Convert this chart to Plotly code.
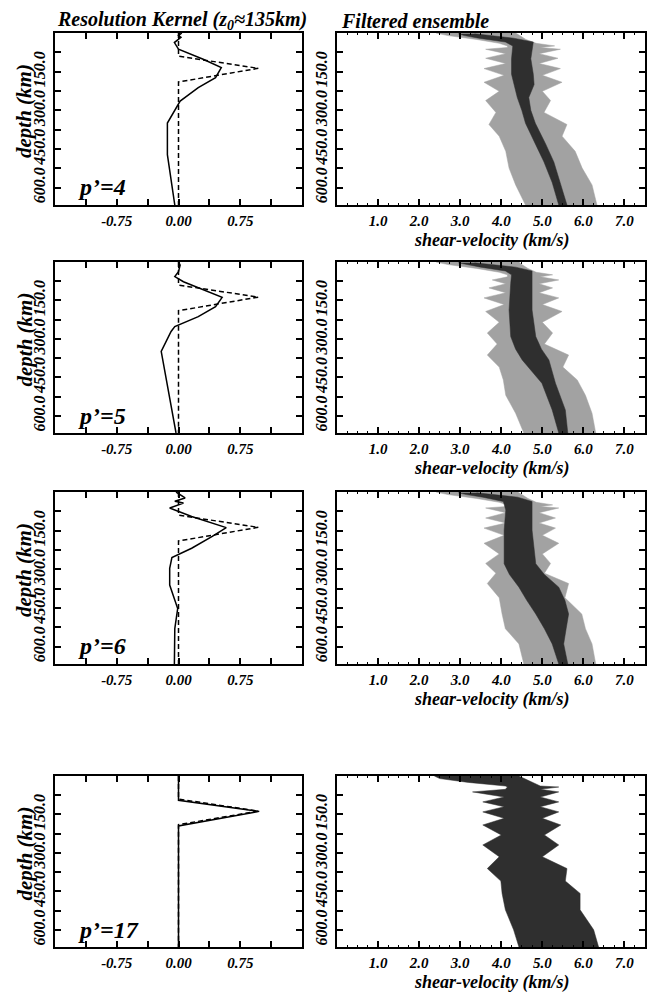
import plotly.graph_objects as go

W, H = 652, 994

# ---------------- data: resolution kernels (value vs depth in km) ----------------
TARGET_DEPTH = [0, 90, 137, 190, 667]
TARGET_VAL = [0.0, 0.0, 0.97, 0.0, 0.0]

K4_DEPTH = [0, 10, 17, 37, 63, 102, 134, 173, 212, 264, 349, 472, 667]
K4_VAL = [0.04, 0.0, 0.03, -0.05, 0.0, 0.30, 0.52, 0.45, 0.24, 0.02, -0.135, -0.135, -0.045]

K5_DEPTH = [0, 12, 38, 57, 77, 138, 174, 213, 252, 271, 349, 641, 667]
K5_VAL = [0.0, 0.02, 0.0, -0.045, 0.06, 0.53, 0.45, 0.24, -0.045, -0.09, -0.21, -0.045, -0.03]

K6_DEPTH = [0, 12, 23, 36, 43, 62, 95, 138, 172, 218, 254, 296, 361, 452, 530, 667]
K6_VAL = [-0.03, 0.03, 0.08, -0.045, 0.06, -0.107, 0.16, 0.58, 0.41, 0.16, -0.08, -0.107, -0.107, -0.01, -0.045, -0.05]

K17_DEPTH = [0, 95, 138, 195, 667]
K17_VAL = [0.0, 0.0, 0.98, 0.0, 0.0]

# ---------------- data: ensemble envelopes (shear velocity km/s vs depth) ----------------
E1_DEPTH = [0, 10, 25, 40, 50, 56, 63, 80, 98, 118, 138, 164, 191, 226, 262, 308, 355, 400, 459, 524, 589, 667]
E1_LEFT = [2.41, 2.70, 3.40, 3.95, 4.15, 4.15, 3.62, 4.11, 3.62, 4.11, 3.58, 4.07, 3.58, 3.95, 3.62, 3.87, 3.70, 3.95, 4.11, 4.19, 4.35, 4.59]
E1_RIGHT = [4.35, 4.45, 4.60, 4.85, 5.30, 4.95, 5.44, 4.92, 5.38, 4.92, 5.44, 5.00, 5.48, 5.00, 5.20, 5.04, 5.60, 5.48, 5.80, 5.97, 6.21, 6.33]
F1_DEPTH = [3, 10, 20, 35, 50, 100, 160, 200, 250, 300, 350, 430, 500, 580, 667]
F1_LEFT = [2.95, 3.10, 3.45, 4.10, 4.28, 4.25, 4.25, 4.31, 4.39, 4.50, 4.59, 4.83, 5.04, 5.24, 5.40]
F1_RIGHT = [3.35, 3.70, 4.30, 4.78, 4.78, 4.72, 4.78, 4.80, 4.67, 4.72, 4.83, 5.08, 5.28, 5.44, 5.60]

E2_DEPTH = [0, 10, 25, 40, 50, 58, 70, 85, 101, 120, 140, 166, 193, 235, 277, 320, 363, 410, 460, 520, 590, 667]
E2_LEFT = [2.41, 2.70, 3.40, 3.95, 4.15, 4.15, 3.78, 4.11, 3.70, 4.11, 3.58, 4.07, 3.62, 3.95, 3.66, 3.90, 3.66, 3.95, 4.05, 4.11, 4.35, 4.55]
E2_RIGHT = [4.43, 4.50, 4.65, 4.85, 5.25, 4.95, 5.40, 4.92, 5.25, 4.92, 5.40, 5.00, 5.48, 5.00, 5.25, 5.05, 5.64, 5.50, 5.85, 6.05, 6.21, 6.30]
F2_DEPTH = [3, 10, 20, 35, 50, 83, 187, 291, 340, 382, 473, 577, 667]
F2_LEFT = [2.95, 3.15, 3.50, 4.10, 4.25, 4.23, 4.19, 4.23, 4.35, 4.51, 4.99, 5.24, 5.40]
F2_RIGHT = [3.35, 3.75, 4.35, 4.75, 4.75, 4.75, 4.75, 4.84, 4.98, 5.16, 5.32, 5.56, 5.62]

E3_DEPTH = [0, 10, 25, 40, 50, 56, 62, 80, 101, 120, 140, 168, 199, 240, 277, 315, 355, 410, 473, 530, 589, 667]
E3_LEFT = [2.41, 2.70, 3.40, 3.95, 4.15, 4.15, 3.62, 4.11, 3.62, 4.11, 3.58, 4.07, 3.58, 3.95, 3.62, 3.87, 3.66, 3.95, 4.02, 4.10, 4.43, 4.55]
E3_RIGHT = [4.40, 4.50, 4.65, 4.85, 5.25, 4.95, 5.40, 4.92, 5.32, 4.92, 5.32, 5.00, 5.40, 5.00, 5.20, 5.05, 5.64, 5.55, 5.96, 6.05, 6.21, 6.30]
F3_DEPTH = [3, 10, 20, 37, 70, 148, 278, 320, 369, 420, 473, 530, 589, 667]
F3_LEFT = [2.95, 3.15, 3.55, 4.05, 4.11, 4.07, 4.07, 4.20, 4.43, 4.62, 4.84, 5.05, 5.24, 5.40]
F3_RIGHT = [3.40, 3.80, 4.40, 4.75, 4.75, 4.75, 4.84, 5.05, 5.40, 5.55, 5.64, 5.58, 5.52, 5.62]

E4_DEPTH = [0, 10, 25, 39, 43, 52, 62, 82, 101, 120, 140, 165, 191, 230, 269, 315, 361, 410, 458, 522, 600, 667]
E4_LEFT = [2.37, 2.50, 3.20, 4.10, 4.15, 4.10, 3.30, 4.07, 3.55, 4.07, 3.55, 4.07, 3.55, 4.00, 3.55, 3.95, 3.66, 3.99, 4.02, 4.10, 4.30, 4.43]
E4_RIGHT = [4.43, 4.55, 4.75, 4.95, 5.40, 4.95, 5.40, 4.95, 5.40, 4.95, 5.40, 5.00, 5.45, 5.05, 5.40, 5.00, 5.60, 5.56, 5.92, 5.92, 6.25, 6.37]

P_LABELS = ["p’=4", "p’=5", "p’=6", "p’=17"]
KERNELS = [(K4_VAL, K4_DEPTH), (K5_VAL, K5_DEPTH), (K6_VAL, K6_DEPTH), (K17_VAL, K17_DEPTH)]
ENSEMBLES = [(E1_DEPTH, E1_LEFT, E1_RIGHT), (E2_DEPTH, E2_LEFT, E2_RIGHT),
             (E3_DEPTH, E3_LEFT, E3_RIGHT), (E4_DEPTH, E4_LEFT, E4_RIGHT)]
FILTERED = [(F1_DEPTH, F1_LEFT, F1_RIGHT), (F2_DEPTH, F2_LEFT, F2_RIGHT),
            (F3_DEPTH, F3_LEFT, F3_RIGHT), None]

KX_TICKS = [-0.75, 0.0, 0.75]
KX_TEXT = ["-0.75", "0.00", "0.75"]
VX_TICKS = [1, 2, 3, 4, 5, 6, 7]
VX_TEXT = ["1.0", "2.0", "3.0", "4.0", "5.0", "6.0", "7.0"]
D_TICKS = [150, 300, 450, 600]
D_TEXT = ["150.0", "300.0", "450.0", "600.0"]

# ---------------- layout geometry (pixels) ----------------
ROW_TOP = [33, 262, 492, 776]
ROW_BOT = [205, 433, 664, 947]
LEFT_X = (55, 302)
RIGHT_X = (337, 645)

LIGHT = "#a2a2a2"
DARK = "#2f2f2f"
FONT = "Liberation Serif"


def px(x):
    return x / W


def py(y):
    return 1 - y / H


fig = go.Figure()

axis_common = dict(showline=True, linecolor="black", linewidth=1.5, mirror="allticks",
                   ticks="inside", ticklen=6, tickwidth=1.5, tickcolor="black",
                   showgrid=False, zeroline=False, fixedrange=True)
tick_font = dict(family=FONT, size=15, color="black", weight="bold", style="italic")
ytick_font = dict(family=FONT, size=16, color="black", weight="bold", style="italic")

layout = {}
annotations = []

for i in range(4):
    li, ri = 2 * i + 1, 2 * i + 2
    lx = "x" if li == 1 else f"x{li}"
    ly = "y" if li == 1 else f"y{li}"
    rx, ry = f"x{ri}", f"y{ri}"
    ydom = [py(ROW_BOT[i]), py(ROW_TOP[i])]

    # left kernel panel
    fig.add_trace(go.Scatter(x=TARGET_VAL, y=TARGET_DEPTH, mode="lines", xaxis=lx, yaxis=ly,
                             line=dict(color="black", width=1.5, dash="5px,3px"), showlegend=False))
    kv, kd = KERNELS[i]
    fig.add_trace(go.Scatter(x=kv, y=kd, mode="lines", xaxis=lx, yaxis=ly,
                             line=dict(color="black", width=1.5), showlegend=False))

    # right ensemble panel
    ed, el, er = ENSEMBLES[i]
    col = LIGHT if FILTERED[i] is not None else DARK
    fig.add_trace(go.Scatter(x=el + er[::-1], y=ed + ed[::-1], mode="lines", fill="toself",
                             fillcolor=col, line=dict(color=col, width=0.5),
                             xaxis=rx, yaxis=ry, showlegend=False))
    if FILTERED[i] is not None:
        fd, fl, fr = FILTERED[i]
        fig.add_trace(go.Scatter(x=fl + fr[::-1], y=fd + fd[::-1], mode="lines", fill="toself",
                                 fillcolor=DARK, line=dict(color=DARK, width=0.5),
                                 xaxis=rx, yaxis=ry, showlegend=False))

    lname = "xaxis" if li == 1 else f"xaxis{li}"
    lyname = "yaxis" if li == 1 else f"yaxis{li}"
    layout[lname] = dict(axis_common, domain=[px(LEFT_X[0]), px(LEFT_X[1])], anchor=ly,
                         range=[-1.5, 1.5], tickmode="array", tickvals=KX_TICKS, ticktext=KX_TEXT,
                         tickfont=tick_font, ticklabelstandoff=1,
                         minor=dict(ticks="inside", ticklen=6, tickwidth=1.5, tickcolor="black",
                                    tickmode="linear", tick0=0, dtick=0.375))
    layout[lyname] = dict(axis_common, domain=ydom, anchor=lx, range=[667, 0],
                          tickmode="array", tickvals=D_TICKS, ticktext=D_TEXT,
                          tickangle=-90, tickfont=ytick_font, ticklabelstandoff=2,
                          minor=dict(ticks="inside", ticklen=6, tickwidth=1.5, tickcolor="black",
                                     tickmode="linear", tick0=0, dtick=75))
    layout[f"xaxis{ri}"] = dict(axis_common, domain=[px(RIGHT_X[0]), px(RIGHT_X[1])], anchor=ry,
                                range=[0, 7.5], tickmode="array", tickvals=VX_TICKS, ticktext=VX_TEXT,
                                tickfont=tick_font, ticklabelstandoff=1,
                                minor=dict(ticks="inside", ticklen=2, tickwidth=1, tickcolor="black",
                                           tickmode="linear", tick0=0, dtick=0.25))
    layout[f"yaxis{ri}"] = dict(axis_common, domain=ydom, anchor=rx, range=[667, 0],
                                tickmode="array", tickvals=D_TICKS, ticktext=D_TEXT,
                                tickangle=-90, tickfont=ytick_font, ticklabelstandoff=2,
                                minor=dict(ticks="inside", ticklen=6, tickwidth=1.5, tickcolor="black",
                                           tickmode="linear", tick0=0, dtick=75))

    ann_font = dict(family=FONT, color="black", weight="bold", style="italic")
    annotations.append(dict(text="depth (km)", x=px(24), y=py((ROW_TOP[i] + ROW_BOT[i]) / 2 - 8),
                            xref="paper", yref="paper", showarrow=False, textangle=-90,
                            xanchor="center", yanchor="middle", font=dict(ann_font, size=21)))
    annotations.append(dict(text=P_LABELS[i], x=px(76), y=py(ROW_TOP[i] + 154),
                            xref="paper", yref="paper", showarrow=False,
                            xanchor="left", yanchor="middle", font=dict(ann_font, size=24)))
    annotations.append(dict(text="shear-velocity (km/s)", x=px(491), y=py(ROW_BOT[i] + 35),
                            xref="paper", yref="paper", showarrow=False,
                            xanchor="center", yanchor="middle", font=dict(ann_font, size=18)))

ttl_font = dict(family=FONT, color="black", weight="bold", style="italic", size=20)
annotations.append(dict(text="Resolution Kernel (z<sub>0</sub>≈135km)", x=px(55), y=py(21),
                        xref="paper", yref="paper", showarrow=False, xanchor="left", yanchor="middle",
                        font=ttl_font))
annotations.append(dict(text="Filtered ensemble", x=px(339), y=py(21),
                        xref="paper", yref="paper", showarrow=False, xanchor="left", yanchor="middle",
                        font=ttl_font))

fig.update_layout(width=W, height=H, margin=dict(l=0, r=0, t=0, b=0),
                  paper_bgcolor="white", plot_bgcolor="white",
                  annotations=annotations, showlegend=False, **layout)

fig.write_html("out.html", config={"displayModeBar": False})
